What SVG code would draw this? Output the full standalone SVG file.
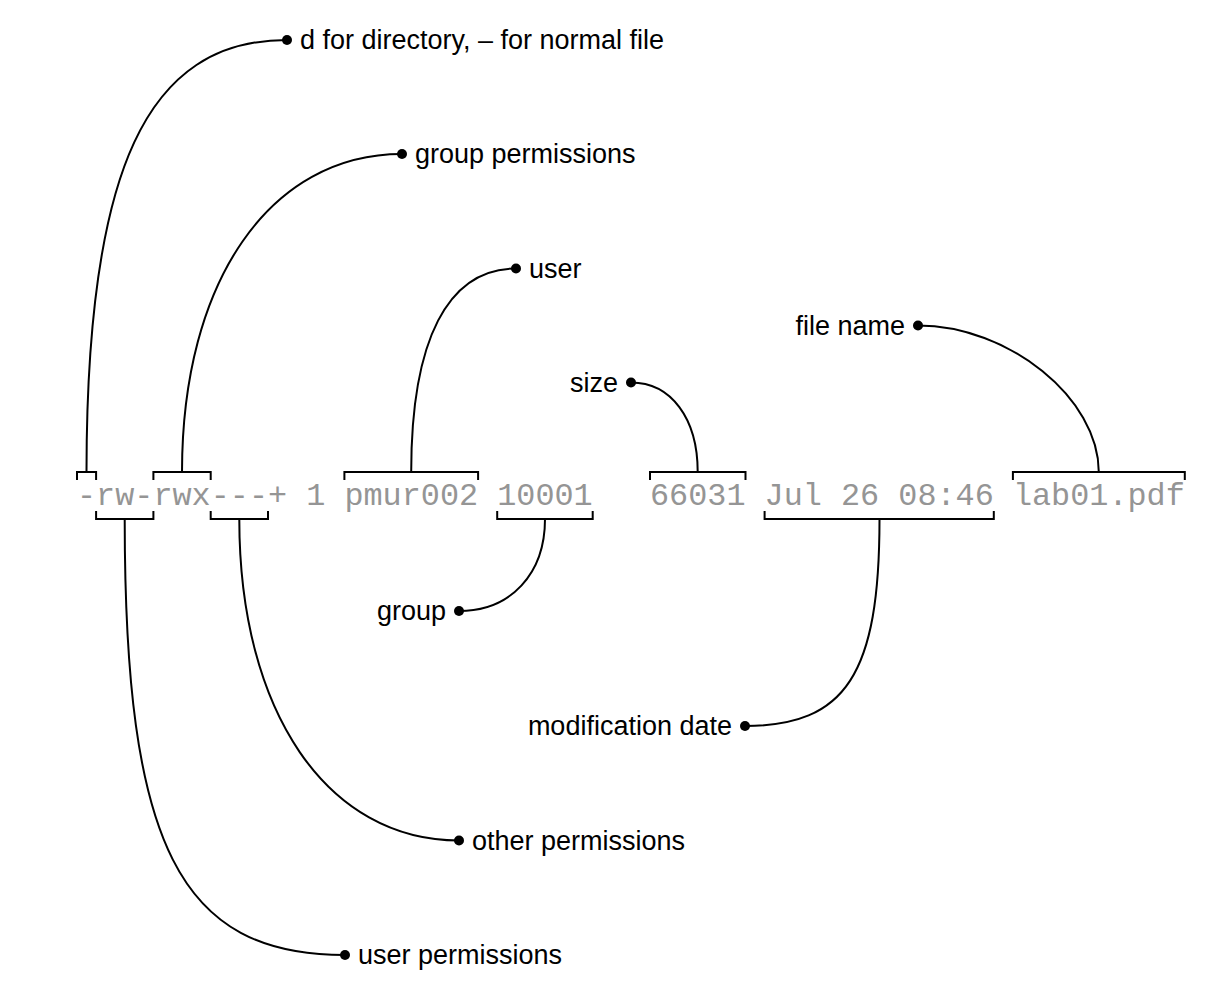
<svg xmlns="http://www.w3.org/2000/svg" width="1211" height="983" viewBox="0 0 1211 983">
<style>
.ls{font-family:"Liberation Mono","DejaVu Sans Mono",monospace;font-size:31.84px;fill:#959595;}
.lab{font-family:"Liberation Sans",Arial,sans-serif;font-size:27px;fill:#000;}
.end{text-anchor:end;}
.br,.cn{fill:none;stroke:#000;stroke-width:2;}
.dot{fill:#000;}
</style>
<rect width="1211" height="983" fill="#fff"/>
<g id="listing">
<text class="ls" x="77" y="505" xml:space="preserve">-rw-rwx---+ 1 pmur002 10001   66031 Jul 26 08:46 lab01.pdf</text>
</g>
<g id="brackets">
<path class="br" d="M77 480V472H96.1V480"/>
<path class="br" d="M153.4 480V472H210.7V480"/>
<path class="br" d="M344.4 480V472H478.1V480"/>
<path class="br" d="M650 480V472H745.5V480"/>
<path class="br" d="M1012.9 480V472H1184.8V480"/>
<path class="br" d="M96.1 511V519H153.4V511"/>
<path class="br" d="M210.7 511V519H268V511"/>
<path class="br" d="M497.2 511V519H592.7V511"/>
<path class="br" d="M764.6 511V519H993.8V511"/>
</g>
<g id="connectors">
<path class="cn" d="M86.5 472C86.5 169.6 146.6 40 287 40"/>
<path class="cn" d="M182 472C182 281.2 270 154 402 154"/>
<path class="cn" d="M411.2 472C411.2 339.7 447.9 268.5 516 268.5"/>
<path class="cn" d="M697.7 472C697.7 418.3 671 382.5 631 382.5"/>
<path class="cn" d="M1098.8 472C1098.8 398 1008.4 325.5 918 325.5"/>
<path class="cn" d="M124.7 519C124.7 846 179.6 955 345 955"/>
<path class="cn" d="M239.3 519C239.3 711.9 327.2 840.5 459 840.5"/>
<path class="cn" d="M545 519C545 574 510.6 611 459 611"/>
<path class="cn" d="M879.5 519C879.5 674 846 726 745 726"/>
</g>
<g id="n-type"><circle class="dot" cx="287" cy="40" r="5"/><text class="lab" x="300" y="49">d for directory, – for normal file</text></g>
<g id="n-groupperm"><circle class="dot" cx="402" cy="154" r="5"/><text class="lab" x="415" y="163">group permissions</text></g>
<g id="n-user"><circle class="dot" cx="516" cy="268.5" r="5"/><text class="lab" x="529" y="277.5">user</text></g>
<g id="n-filename"><circle class="dot" cx="918" cy="325.5" r="5"/><text class="lab end" x="905" y="334.5">file name</text></g>
<g id="n-size"><circle class="dot" cx="631" cy="382.5" r="5"/><text class="lab end" x="618" y="391.5">size</text></g>
<g id="n-group"><circle class="dot" cx="459" cy="611" r="5"/><text class="lab end" x="446" y="620">group</text></g>
<g id="n-moddate"><circle class="dot" cx="745" cy="726" r="5"/><text class="lab end" x="732" y="735">modification date</text></g>
<g id="n-otherperm"><circle class="dot" cx="459" cy="840.5" r="5"/><text class="lab" x="472" y="849.5">other permissions</text></g>
<g id="n-userperm"><circle class="dot" cx="345" cy="955" r="5"/><text class="lab" x="358" y="964">user permissions</text></g>
</svg>
